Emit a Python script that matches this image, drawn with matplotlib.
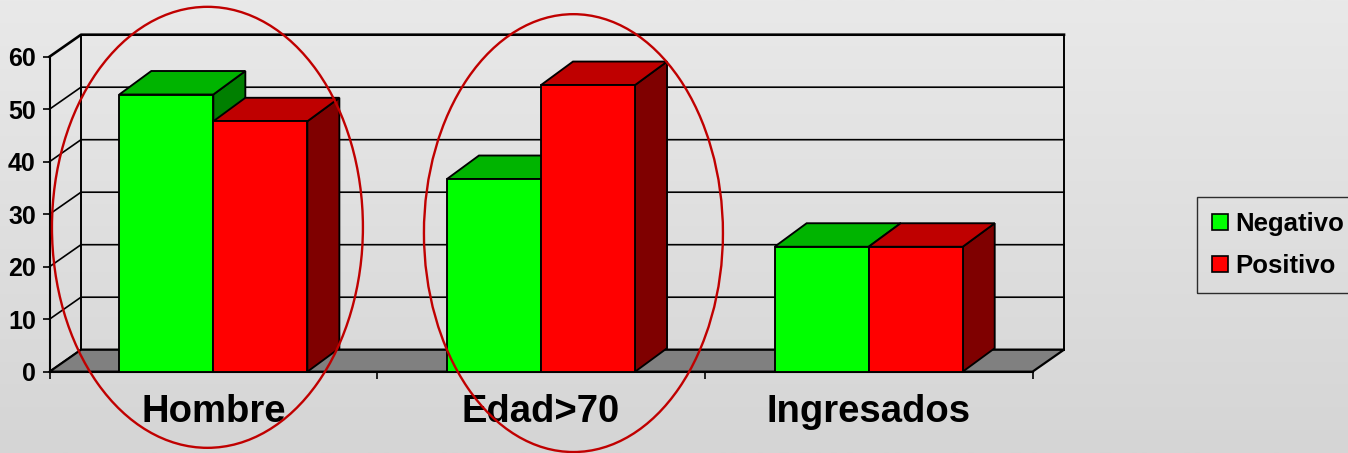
import numpy as np
import matplotlib
matplotlib.use("Agg")
import matplotlib.pyplot as plt
from matplotlib.patches import Polygon, Ellipse, Patch
from matplotlib.colors import LinearSegmentedColormap

plt.rcParams["font.family"] = ["Liberation Sans", "DejaVu Sans"]

# datos
categorias = ["Hombre", "Edad>70", "Ingresados"]
series = ["Negativo", "Positivo"]
negativo = [52.8, 36.7, 23.8]
positivo = [47.7, 54.6, 23.8]
ticks_y = [0, 10, 20, 30, 40, 50, 60]

# colores: frente, tapa, lateral
VERDE = ("#00ff00", "#00b400", "#007f00")
ROJO = ("#ff0000", "#bf0000", "#7f0000")
ELIPSE = "#c00000"
LW = 1.35

W, H, DPI = 1348, 453, 100
fig = plt.figure(figsize=(W / DPI, H / DPI), dpi=DPI)

# fondo degradado gris
bg = fig.add_axes([0, 0, 1, 1], zorder=-10)
cm = LinearSegmentedColormap.from_list("bg", ["#e9e9e9", "#d5d5d5"])
bg.imshow(np.linspace(0, 1, 256)[:, None], aspect="auto", cmap=cm, extent=[0, 1, 0, 1])
bg.axis("off")

# plano frontal del gráfico (px)
x0, x1, y0, y1 = 49.5, 1032.5, 371.7, 56.7
ax = fig.add_axes([x0 / W, 1 - y0 / H, (x1 - x0) / W, (y0 - y1) / H])
ax.set_xlim(0, 3)
ax.set_ylim(0, 60)
ax.patch.set_visible(False)


def prof(dx_px, dy_px):
    # desplazamiento de profundidad (px) -> unidades de datos
    o = ax.transData.transform((0, 0))
    return ax.transData.inverted().transform(o + np.array([dx_px, dy_px]))


DXw, DYw = prof(31.5, 22)     # paredes
DXb, DYb = prof(32, 23.5)     # barras

# pared lateral + pared del fondo
for v in ticks_y:
    ax.plot([0, DXw, 3 + DXw], [v, v + DYw, v + DYw], color="k",
            lw=1.9 if v == 60 else 1.2, zorder=1, clip_on=False)
for xx in (DXw, 3 + DXw):
    ax.plot([xx, xx], [DYw, 60 + DYw], color="k", lw=1.4, zorder=1, clip_on=False)

# suelo
ax.add_patch(Polygon([(0, 0), (3, 0), (3 + DXw, DYw), (DXw, DYw)], closed=True,
                     fc="#808080", ec="k", lw=1.6, zorder=1.5, clip_on=False))

# barras 3D
xc = np.arange(len(categorias)) + 0.5
bw = 0.287
for vals, off, cols in [(negativo, -bw / 2, VERDE), (positivo, bw / 2, ROJO)]:
    for x, v in zip(xc + off, vals):
        xl, xr = x - bw / 2, x + bw / 2
        ax.add_patch(Polygon([(xr, 0), (xr + DXb, DYb), (xr + DXb, v + DYb), (xr, v)],
                             fc=cols[2], ec="k", lw=LW, zorder=2, clip_on=False,
                             joinstyle="miter"))
        ax.add_patch(Polygon([(xl, v), (xr, v), (xr + DXb, v + DYb), (xl + DXb, v + DYb)],
                             fc=cols[1], ec="k", lw=LW, zorder=2, clip_on=False,
                             joinstyle="miter"))
for vals, off, cols in [(negativo, -bw / 2, VERDE), (positivo, bw / 2, ROJO)]:
    ax.bar(xc + off, vals, bw, color=cols[0], edgecolor="k", lw=LW, zorder=3)

# ejes
for s in ("top", "right"):
    ax.spines[s].set_visible(False)
for s in ("left", "bottom"):
    ax.spines[s].set_linewidth(1.5)
ax.set_yticks(ticks_y)
ax.set_yticklabels([str(t) for t in ticks_y], fontsize=18, fontweight="bold")
ax.tick_params(axis="y", length=5.4, width=1.2, pad=4.5)
ax.set_xticks([0, 1, 2, 3])
ax.set_xticklabels([])
ax.tick_params(axis="x", which="major", length=5, width=1.2)
ax.set_xticks(xc, minor=True)
ax.set_xticklabels(categorias, minor=True, fontsize=27.5, fontweight="bold")
ax.tick_params(axis="x", which="minor", length=0, pad=16)

# elipses de resalte
ax.add_patch(Ellipse((0.482, 27.5), 0.949, 84, fill=False, ec=ELIPSE, lw=1.7,
                     zorder=6, clip_on=False))
ax.add_patch(Ellipse((1.599, 26.4), 0.9125, 83.4, fill=False, ec=ELIPSE, lw=1.7,
                     zorder=6, clip_on=False))

# leyenda
handles = [Patch(fc=VERDE[0], ec="k", lw=1.2, label=series[0]),
           Patch(fc=ROJO[0], ec="k", lw=1.2, label=series[1])]
leg = fig.legend(handles=handles, loc="upper left", bbox_to_anchor=(1197 / W, 1 - 197 / H),
                 frameon=True, fancybox=False, edgecolor="k", facecolor="none",
                 prop=dict(weight="bold", size=18.5), handlelength=0.62, handleheight=0.62,
                 handletextpad=0.3, labelspacing=0.7, borderpad=0.58, borderaxespad=0)
leg.get_frame().set_linewidth(1.0)

fig.savefig("out.png", dpi=DPI)
